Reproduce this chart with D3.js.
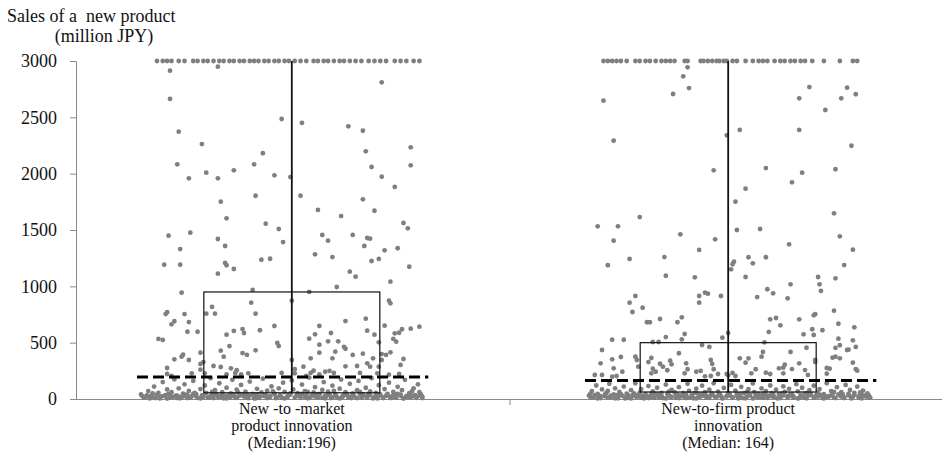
<!DOCTYPE html>
<html><head><meta charset="utf-8">
<script src="https://cdn.jsdelivr.net/npm/d3@7"></script>
<style>body{margin:0;background:#fff}svg{display:block;background:#fff}</style>
</head><body><svg id="c" width="942" height="453"></svg>
<script>
// ---------------- DATA ----------------
const categories = ["New-to-market product innovation", "New-to-firm product innovation"];
const categoryLabels = [
  ["New -to -market", "product innovation", "(Median:196)"],
  ["New-to-firm product", "innovation", "(Median: 164)"]
];
const yTicks = [0, 500, 1000, 1500, 2000, 2500, 3000];
const yTitle = ["Sales of a  new product", "(million JPY)"];
const medians = [196, 164];
const boxLow = [55, 62];
const boxHigh = [950, 500];
const whiskerHigh = [3000, 3000];

// points: [jitter (-100..100 of half strip width), sales value]
const capNTM = [-93,-89,-86,-83,-78,-74,-68,-65,-61,-58,-54,-50,-47,-43,-40,-36,-33,-29,-26,-23,-19,-16,-12,-9,-5,-2,2,6,10,15,18,22,25,29,33,36,40,44,48,53,57,61,65,71,75,79,84,88];
const pointsNTM = [[-84,2914],[-51,2950],[-84,2663],[62,2811],[-7,2485],[7,2450],[39,2420],[49,2381],[-78,2373],[-62,2263],[51,2198],[82,2234],[-20,2181],[-79,2083],[-26,2083],[82,2074],[55,2059],[-59,2009],[-40,2030],[-71,1959],[-51,1959],[-12,1985],[-1,1970],[62,1973],[71,1882],[-25,1804],[6,1804],[49,1772],[-49,1751],[18,1678],[57,1671],[34,1624],[-45,1604],[-18,1556],[77,1562],[80,1515],[-9,1509],[-85,1450],[-70,1476],[-51,1420],[-46,1358],[-6,1393],[21,1456],[25,1405],[42,1456],[52,1429],[54,1423],[50,1358],[73,1338],[64,1320],[-77,1331],[16,1284],[28,1260],[-21,1236],[-15,1245],[60,1243],[55,1225],[-88,1192],[-77,1192],[-46,1207],[-45,1187],[-40,1154],[-51,1112],[81,1174],[40,1130],[44,1086],[68,1041],[31,994],[-76,944],[-27,968],[12,950],[0,873],[67,873],[68,849],[-28,855],[-55,817],[-86,770],[-87,754],[-74,754],[-59,757],[-53,757],[-25,757],[-81,690],[-83,663],[-71,683],[51,713],[37,692],[19,648],[-12,648],[64,651],[82,624],[88,642],[76,619],[-72,597],[-65,597],[-40,604],[-34,621],[-33,586],[-22,610],[52,606],[-45,571],[57,571],[71,583],[16,574],[27,586],[12,535],[-92,533],[-89,524],[25,512],[19,482],[32,512],[36,462],[37,446],[-43,470],[-10,497],[-9,470],[19,411],[30,420],[42,391],[-25,432],[-34,408],[-31,391],[-49,429],[-47,376],[-76,376],[-75,393],[-81,352],[-86,275],[-71,346],[-63,411],[-61,328],[-63,311],[13,361],[28,361],[45,293],[49,402],[52,317],[56,361],[54,287],[60,503],[62,399],[65,391],[68,414],[62,346],[60,287],[70,533],[72,509],[74,588],[77,355],[75,302],[0,346],[2,264],[8,287],[-54,293],[-49,284],[-42,272],[-38,255],[-7,231],[15,251],[23,242],[26,249],[29,231],[37,290],[47,231],[59,228],[67,216],[74,222],[-83,204],[-86,222],[-69,228],[-63,260],[-60,228],[-45,219],[-39,231],[-35,219],[-30,228],[2,228],[10,204],[13,231],[19,219],
[-104,40],[-101,15],[-99,70],[-97,28],[-95,110],[-94,8],[-92,55],[-90,22],[-89,150],[-87,35],[-86,85],[-84,12],[-83,60],[-81,175],[-80,30],[-78,95],[-77,18],[-75,48],[-74,130],[-72,8],[-71,72],[-69,25],[-68,160],[-66,42],[-65,10],[-63,88],[-62,32],[-60,120],[-59,55],[-57,14],[-56,185],[-54,38],[-53,78],[-51,20],[-50,140],[-48,60],[-47,6],[-45,100],[-44,30],[-42,50],[-41,170],[-39,15],[-38,82],[-36,40],[-35,125],[-33,22],[-32,65],[-30,9],[-29,155],[-27,45],[-26,28],[-24,90],[-23,12],[-21,58],[-20,180],[-18,35],[-17,75],[-15,18],[-14,112],[-12,48],[-11,7],[-9,95],[-8,30],[-6,145],[-5,62],[-3,16],[-2,40],[0,165],[1,85],[3,25],[4,52],[6,10],[7,128],[9,70],[10,33],[12,190],[13,20],[15,58],[16,105],[18,12],[19,42],[21,80],[22,150],[24,26],[25,65],[27,8],[28,118],[30,45],[31,18],[33,92],[34,172],[36,35],[37,60],[39,14],[40,135],[42,50],[43,24],[45,78],[46,160],[48,10],[49,40],[51,100],[52,28],[54,68],[55,185],[57,18],[58,55],[60,122],[61,32],[63,8],[64,88],[66,46],[67,145],[69,22],[70,62],[72,12],[73,108],[75,38],[76,78],[78,170],[79,26],[81,52],[82,15],[84,95],[85,35],[87,130],[88,60],[90,20],
[-103,25],[-96,50],[-91,5],[-85,45],[-79,8],[-73,38],[-67,55],[-61,20],[-55,62],[-49,28],[-43,12],[-37,58],[-31,42],[-25,5],[-19,25],[-13,68],[-7,12],[-1,50],[5,35],[11,62],[17,30],[23,5],[29,72],[35,20],[41,8],[47,62],[53,45],[59,5],[65,28],[71,42],[77,8],[83,70],[89,40],
[-102,12],[-100,32],[-98,5],[-96,20],[-93,38],[-91,15],[-88,28],[-86,4],[-84,40],[-82,18],[-79,30],[-77,6],[-75,22],[-72,35],[-70,12],[-68,45],[-66,25],[-63,5],[-61,35],[-58,15],[-56,28],[-54,8],[-52,42],[-49,18],[-47,32],[-45,5],[-42,22],[-40,38],[-38,10],[-36,28],[-33,45],[-31,14],[-29,30],[-26,6],[-24,40],[-22,20],[-19,35],[-17,8],[-15,25],[-12,42],[-10,15],[-8,32],[-5,5],[-3,22],[-1,38],[2,12],[4,30],[7,45],[9,18],[11,6],[14,35],[16,22],[18,42],[21,10],[23,28],[26,40],[28,15],[30,32],[33,5],[35,25],[38,40],[40,18],[42,30],[45,8],[47,42],[49,22],[52,12],[54,35],[56,5],[59,25],[61,40],[63,15],[66,32],[68,8],[70,20],[73,45],[75,28],[77,4],[80,18],[82,35],[84,25],[86,10],[88,30],[90,8]];

const capNTF = [-86,-83,-80,-77,-74,-70,-64,-61,-57,-54,-50,-46,-43,-40,-37,-30,-28,-19,-17,-14,-11,-8,-6,-3,-1,3,6,12,17,21,24,27,32,36,39,43,46,50,53,58,66,77,86,89];
const pointsNTF = [[-28,2944],[-31,2864],[-27,2760],[-38,2707],[-86,2648],[56,2769],[82,2763],[49,2669],[78,2669],[88,2705],[67,2565],[8,2388],[49,2388],[-1,2340],[-79,2293],[85,2248],[-10,2030],[26,2050],[51,2009],[74,2039],[44,1923],[12,1867],[5,1751],[73,1648],[-61,1615],[-90,1533],[-76,1533],[6,1500],[22,1509],[-79,1405],[-33,1462],[-9,1417],[42,1373],[77,1444],[86,1325],[-20,1323],[-83,1187],[-68,1243],[-44,1260],[-43,1094],[-23,1080],[4,1219],[3,1196],[2,1151],[14,1258],[17,1204],[26,1258],[12,1083],[43,1018],[62,1083],[63,1018],[64,959],[74,1071],[80,1189],[27,974],[31,938],[20,905],[41,894],[-64,914],[-68,855],[-66,772],[-59,810],[-20,914],[-20,855],[-16,944],[-14,935],[-5,914],[-32,725],[-35,681],[-56,681],[-54,681],[-47,710],[-43,550],[-32,530],[-30,577],[-72,526],[-80,526],[-87,435],[-52,506],[-48,506],[-18,479],[-13,462],[-4,544],[0,586],[25,503],[29,707],[33,719],[36,654],[28,595],[49,707],[59,743],[60,752],[52,574],[58,619],[59,568],[65,610],[73,784],[76,668],[87,636],[76,535],[77,477],[74,453],[86,521],[88,462],[83,438],[24,417],[8,361],[14,361],[12,322],[23,376],[43,417],[54,455],[60,346],[60,328],[49,317],[39,304],[38,278],[38,228],[53,257],[55,213],[72,367],[74,376],[77,361],[86,322],[88,264],[89,251],[68,275],[70,269],[68,225],[82,435],[-88,317],[-87,213],[-80,352],[-74,373],[-79,272],[-73,242],[-77,204],[-80,198],[-64,376],[-63,346],[-62,287],[-53,364],[-55,328],[-47,313],[-45,287],[-52,269],[-50,242],[-53,228],[-40,340],[-39,308],[-42,255],[-34,406],[-29,317],[-28,264],[-30,228],[-22,242],[-19,249],[-12,346],[-11,311],[-10,264],[-7,222],[-1,222],[3,231],[19,264],[16,228],[26,234],[29,222],[35,272],[44,266],[-92,213],[-16,201],[-12,204],[0,210],[5,204],
[-96,30],[-94,70],[-93,12],[-91,120],[-90,45],[-88,8],[-87,85],[-85,25],[-84,55],[-82,135],[-81,15],[-79,40],[-78,95],[-76,6],[-75,62],[-73,28],[-72,110],[-70,48],[-69,10],[-67,78],[-66,32],[-64,140],[-63,18],[-61,58],[-60,88],[-58,5],[-57,42],[-55,115],[-54,25],[-52,68],[-51,12],[-49,100],[-48,36],[-46,55],[-45,8],[-43,128],[-42,45],[-40,20],[-39,80],[-37,60],[-36,10],[-34,105],[-33,30],[-31,52],[-30,15],[-28,135],[-27,72],[-25,38],[-24,6],[-22,92],[-21,48],[-19,22],[-18,118],[-16,60],[-15,12],[-13,82],[-12,35],[-10,140],[-9,18],[-7,65],[-6,44],[-4,8],[-3,98],[-1,28],[0,55],[2,125],[3,14],[5,75],[6,40],[8,22],[9,108],[11,50],[12,6],[14,88],[15,32],[17,138],[18,60],[20,18],[21,45],[23,95],[24,10],[26,70],[27,30],[29,120],[30,52],[32,15],[33,82],[35,40],[36,8],[38,112],[39,62],[41,25],[42,90],[44,45],[45,12],[47,132],[48,68],[50,28],[51,100],[53,50],[54,6],[56,78],[57,35],[59,118],[60,18],[62,58],[63,88],[65,10],[66,42],[68,140],[69,25],[71,70],[72,48],[74,8],[75,105],[77,32],[78,60],[80,15],[81,125],[83,45],[84,80],[86,20],[87,55],[89,110],[90,10],[92,38],[93,75],[95,22],[96,50],[98,12],
[-95,48],[-89,22],[-83,72],[-77,35],[-71,5],[-65,50],[-59,28],[-53,45],[-47,18],[-41,65],[-35,40],[-29,8],[-23,55],[-17,30],[-11,50],[-5,25],[1,40],[7,5],[13,62],[19,35],[25,52],[31,20],[37,48],[43,30],[49,8],[55,55],[61,38],[67,15],[73,62],[79,42],[85,5],[91,58],[97,32],
[-95,15],[-92,35],[-90,5],[-88,25],[-85,40],[-83,12],[-81,30],[-78,6],[-76,20],[-74,42],[-71,15],[-69,32],[-67,5],[-64,25],[-62,38],[-60,12],[-57,30],[-55,8],[-53,20],[-50,42],[-48,15],[-46,28],[-43,5],[-41,35],[-39,18],[-36,42],[-34,8],[-32,25],[-29,38],[-27,12],[-25,30],[-22,5],[-20,20],[-18,40],[-15,28],[-13,10],[-11,35],[-8,18],[-6,42],[-4,5],[-1,22],[1,32],[3,12],[6,28],[8,42],[10,8],[13,20],[15,38],[17,5],[20,28],[22,15],[24,40],[27,10],[29,25],[31,42],[34,5],[36,18],[38,32],[41,12],[43,40],[45,22],[48,5],[50,35],[52,15],[55,28],[57,42],[59,10],[62,22],[64,35],[66,5],[69,18],[71,30],[73,12],[76,40],[78,22],[80,8],[83,32],[85,15],[87,38],[90,25],[92,5],[94,30],[97,15]];

const capValue = 3000;

// ---------------- CHART ----------------
const svg = d3.select("#c");
const FONT = "'Liberation Serif','Times New Roman',serif";
const x = d3.scalePoint().domain(categories).range([78, 942]).padding(0.49);
const y = d3.scaleLinear().domain([0, 3000]).range([399, 61]);
const jit = d3.scaleLinear().domain([-100, 100]).range([-145, 145]);
const boxHalf = 88;

function stext(g, str, tx, ty, anchor, size) {
  g.append("text").attr("x", tx).attr("y", ty)
    .attr("text-anchor", anchor).attr("font-family", FONT).attr("font-size", size)
    .attr("fill", "#111").text(str);
}

// y axis
const gy = svg.append("g").attr("transform", "translate(76,0)")
  .call(d3.axisLeft(y).tickValues(yTicks).tickSize(6).tickPadding(13).tickFormat(d3.format("d")));
gy.select(".domain").attr("stroke", "#8a8a8a");
gy.selectAll(".tick line").attr("stroke", "#8a8a8a");
gy.selectAll(".tick text").attr("font-family", FONT).attr("font-size", 18).attr("fill", "#111");

// x axis line
svg.append("line").attr("x1", 76).attr("x2", 942).attr("y1", y(0) + 0.5).attr("y2", y(0) + 0.5)
  .attr("stroke", "#8a8a8a").attr("stroke-width", 1.2);
const midX = (x(categories[0]) + x(categories[1])) / 2;
svg.append("line").attr("x1", midX).attr("x2", midX).attr("y1", y(0)).attr("y2", y(0) + 6)
  .attr("stroke", "#8a8a8a");

// title
svg.append("text").attr("x", 7).attr("y", 22).attr("font-family", FONT).attr("font-size", 18)
  .attr("fill", "#111").style("white-space", "pre").text(yTitle[0]);
stext(svg, yTitle[1], 104, 42, "middle", 18);

const sets = [
  { cat: categories[0], pts: capNTM.map(j => [j, capValue]).concat(pointsNTM) },
  { cat: categories[1], pts: capNTF.map(j => [j, capValue]).concat(pointsNTF) }
];

sets.forEach((s, i) => {
  const cx = x(s.cat);
  const g = svg.append("g");
  g.selectAll("circle").data(s.pts).join("circle")
    .attr("cx", d => cx + jit(d[0])).attr("cy", d => y(d[1])).attr("r", 2.4)
    .attr("fill", "#7f7f7f");
  // box
  g.append("rect").attr("x", cx - boxHalf).attr("width", boxHalf * 2)
    .attr("y", y(boxHigh[i])).attr("height", y(boxLow[i]) - y(boxHigh[i]))
    .attr("fill", "none").attr("stroke", "#111").attr("stroke-width", 1.2);
  // whisker
  g.append("line").attr("x1", cx).attr("x2", cx).attr("y1", y(boxLow[i])).attr("y2", y(whiskerHigh[i]))
    .attr("stroke", "#111").attr("stroke-width", 1.8);
  // median dashed
  const ext = d3.extent(s.pts, d => d[0]);
  g.append("line").attr("x1", cx + jit(ext[0]) - 4).attr("x2", cx + jit(ext[1]) + 6)
    .attr("y1", y(medians[i])).attr("y2", y(medians[i]))
    .attr("stroke", "#000").attr("stroke-width", 3).attr("stroke-dasharray", "11,5");
  // labels
  categoryLabels[i].forEach((t, k) => stext(svg, t, cx, 414 + k * 17, "middle", 16));
});
</script>
</body></html>
